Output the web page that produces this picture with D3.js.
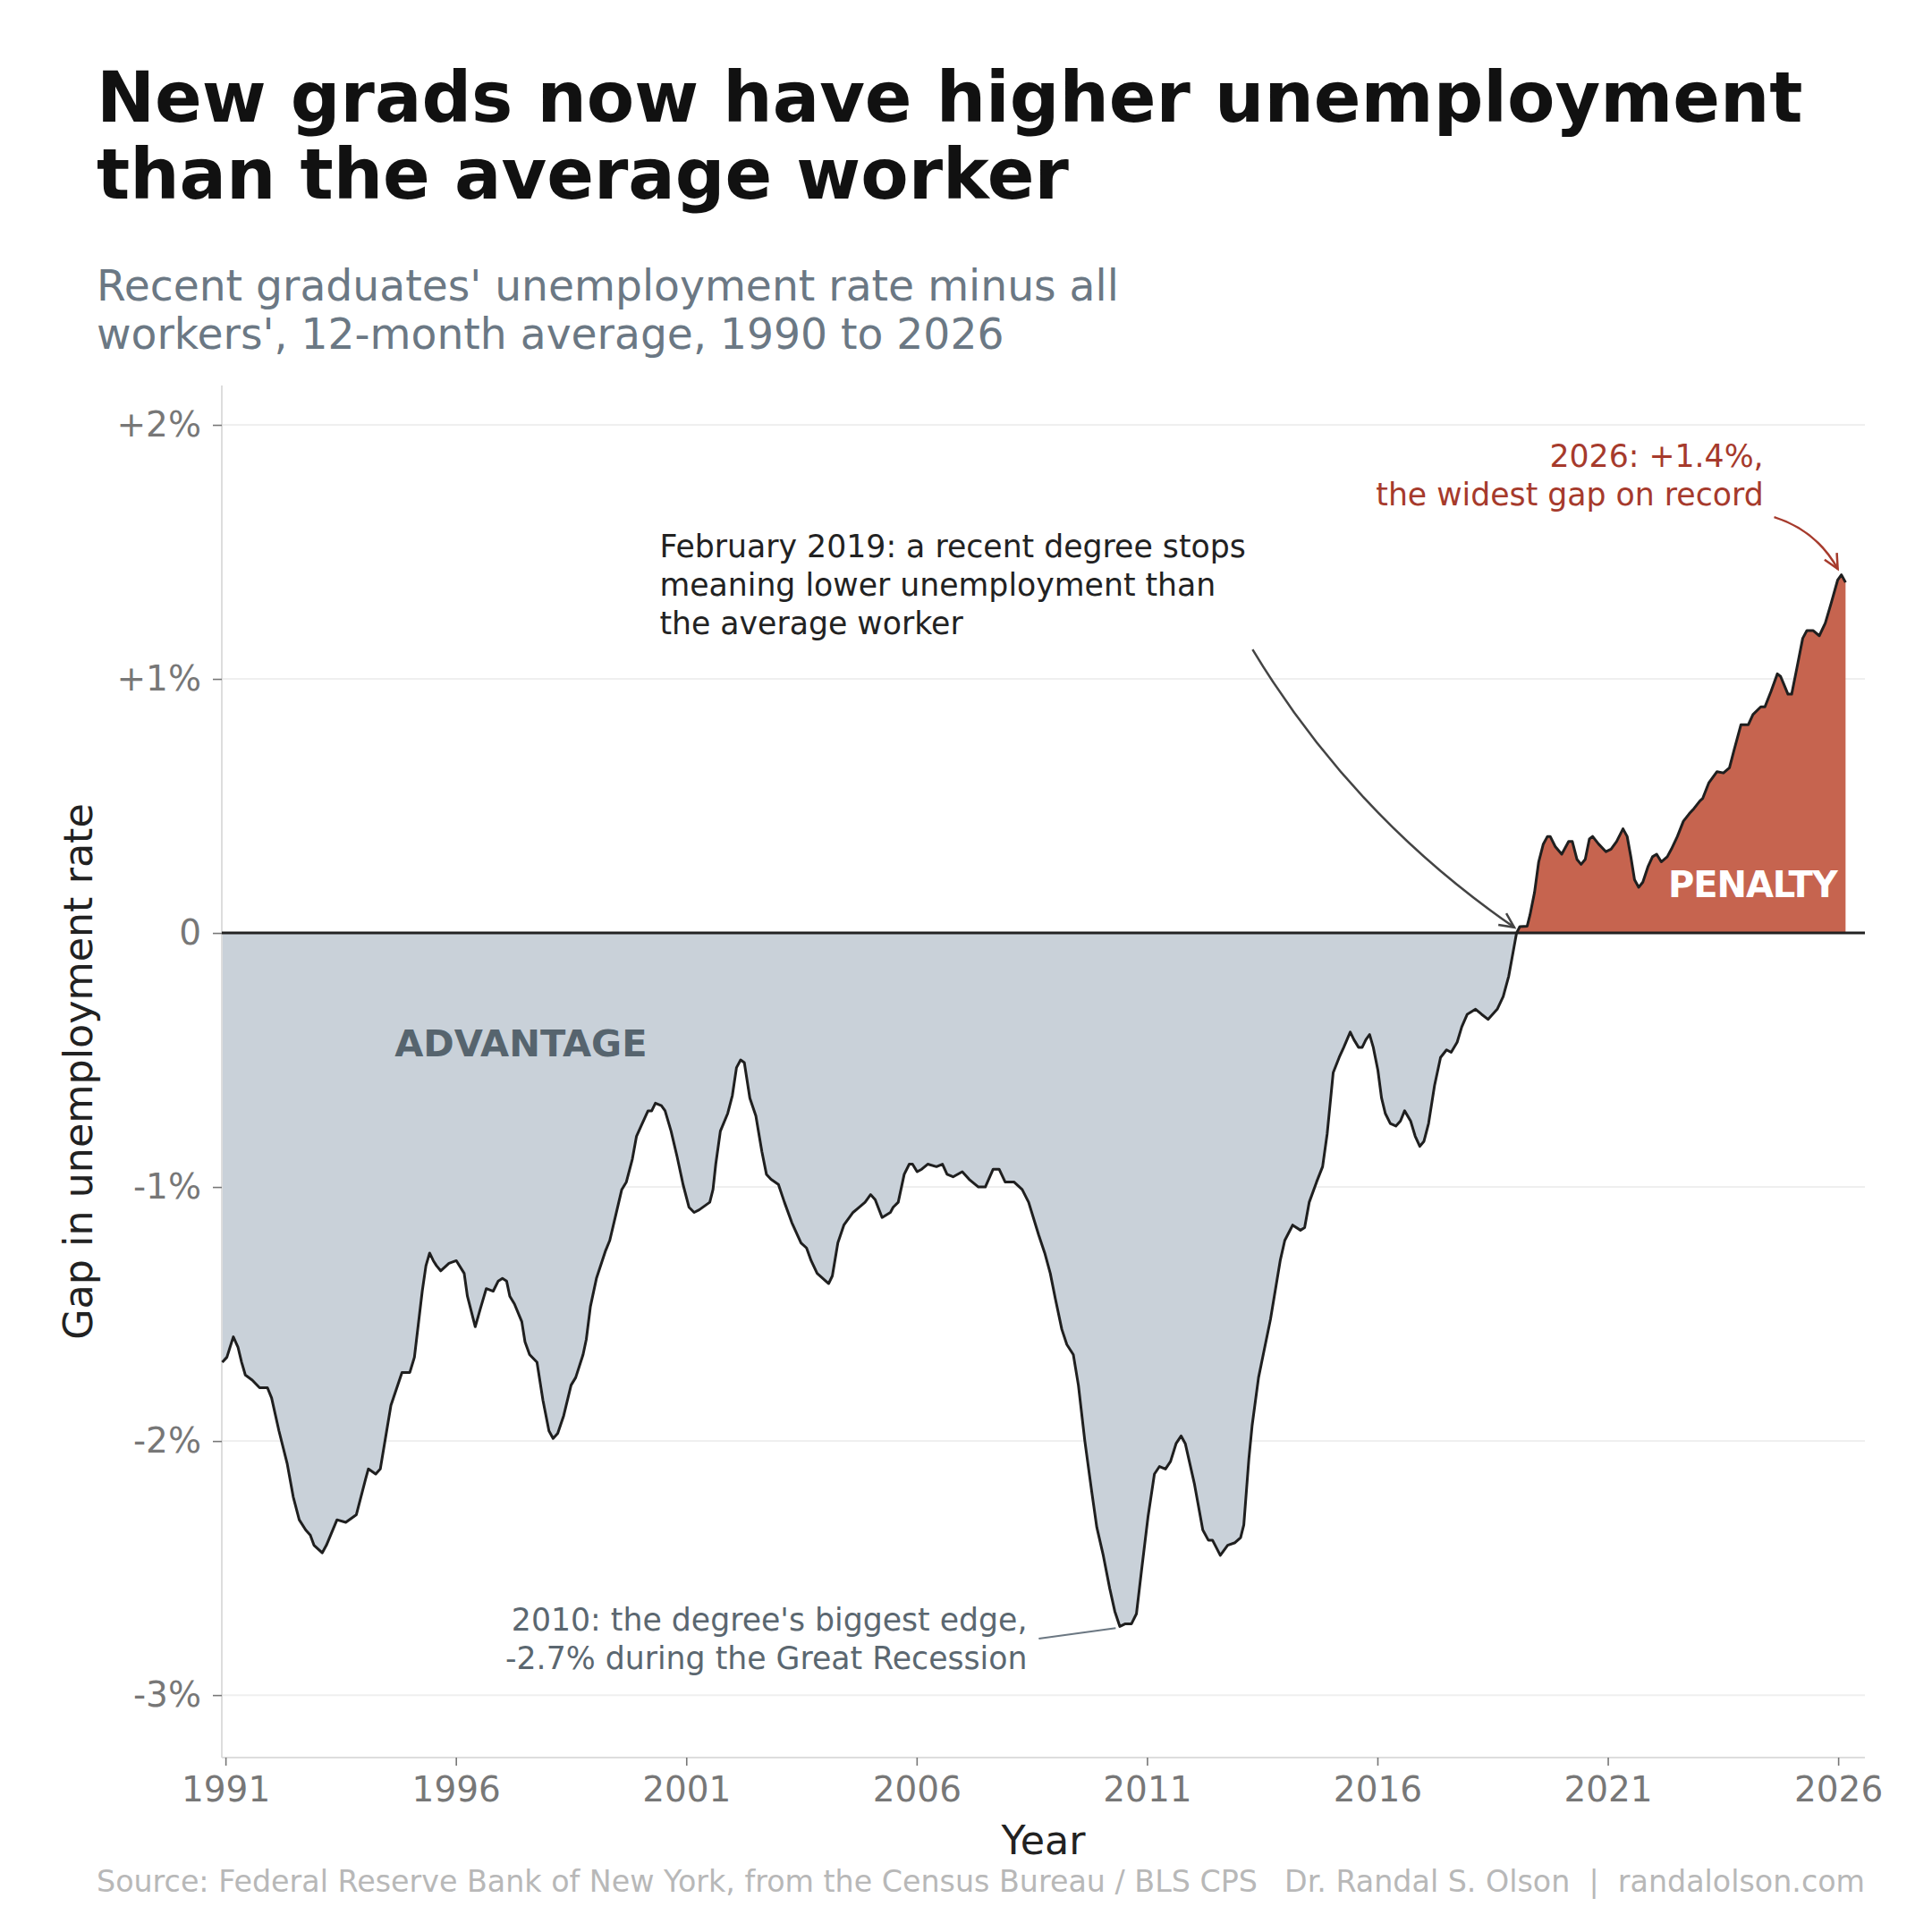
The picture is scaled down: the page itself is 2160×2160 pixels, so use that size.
<!DOCTYPE html>
<html>
<head>
<meta charset="utf-8">
<script src="https://cdn.jsdelivr.net/npm/d3@7"></script>
<style>
  body { margin: 0; background: #fff; }
  svg { display: block; font-family: "DejaVu Sans", sans-serif; }
</style>
</head>
<body>
<div id="chart"></div>
<script>
// gap = recent grads' unemployment rate minus all workers', 12-month avg (pct points)
// dates as decimal years
const years = [
  1990.93, 1991.03, 1991.17, 1991.27, 1991.35, 1991.43, 1991.58, 1991.74, 1991.91, 1992.00,
  1992.16, 1992.34, 1992.47, 1992.60, 1992.74, 1992.84, 1992.92, 1993.10, 1993.19, 1993.42,
  1993.61, 1993.84, 1994.04, 1994.10, 1994.26, 1994.36, 1994.59, 1994.83, 1995.00, 1995.10,
  1995.27, 1995.35, 1995.43, 1995.51, 1995.58, 1995.67, 1995.85, 1996.01, 1996.18, 1996.25,
  1996.42, 1996.53, 1996.66, 1996.81, 1996.92, 1997.01, 1997.10, 1997.17, 1997.27, 1997.43,
  1997.50, 1997.60, 1997.76, 1997.89, 1998.02, 1998.11, 1998.21, 1998.34, 1998.50, 1998.60,
  1998.76, 1998.83, 1998.92, 1999.05, 1999.25, 1999.34, 1999.47, 1999.60, 1999.70, 1999.83,
  1999.92, 2000.02, 2000.17, 2000.25, 2000.33, 2000.46, 2000.54, 2000.67, 2000.80, 2000.93,
  2001.06, 2001.17, 2001.28, 2001.51, 2001.58, 2001.64, 2001.74, 2001.90, 2002.00, 2002.09,
  2002.18, 2002.26, 2002.38, 2002.51, 2002.64, 2002.74, 2002.84, 2003.00, 2003.13, 2003.29,
  2003.49, 2003.61, 2003.71, 2003.84, 2004.09, 2004.17, 2004.29, 2004.42, 2004.62, 2004.75,
  2004.88, 2005.00, 2005.10, 2005.25, 2005.43, 2005.49, 2005.60, 2005.73, 2005.84, 2005.91,
  2006.01, 2006.11, 2006.24, 2006.43, 2006.56, 2006.66, 2006.79, 2006.99, 2007.14, 2007.34,
  2007.49, 2007.66, 2007.79, 2007.92, 2008.11, 2008.29, 2008.43, 2008.65, 2008.78, 2008.90,
  2009.01, 2009.15, 2009.26, 2009.40, 2009.51, 2009.65, 2009.80, 2009.91, 2010.05, 2010.19,
  2010.30, 2010.41, 2010.52, 2010.66, 2010.77, 2010.88, 2011.02, 2011.16, 2011.27, 2011.40,
  2011.51, 2011.63, 2011.74, 2011.83, 2012.03, 2012.21, 2012.33, 2012.42, 2012.59, 2012.75,
  2012.91, 2013.03, 2013.10, 2013.21, 2013.28, 2013.42, 2013.68, 2013.89, 2013.99, 2014.16,
  2014.33, 2014.42, 2014.52, 2014.68, 2014.81, 2014.91, 2015.04, 2015.17, 2015.27, 2015.41,
  2015.49, 2015.59, 2015.67, 2015.75, 2015.83, 2015.91, 2016.01, 2016.09, 2016.17, 2016.28,
  2016.40, 2016.50, 2016.59, 2016.72, 2016.82, 2016.92, 2017.01, 2017.11, 2017.24, 2017.37,
  2017.50, 2017.60, 2017.73, 2017.83, 2017.95, 2018.13, 2018.26, 2018.40, 2018.60, 2018.73,
  2018.85, 2018.94, 2019.02, 2019.09, 2019.25, 2019.31, 2019.41, 2019.50, 2019.60, 2019.69,
  2019.75, 2019.86, 2020.00, 2020.15, 2020.23, 2020.33, 2020.42, 2020.51, 2020.60, 2020.67,
  2020.80, 2020.96, 2021.07, 2021.19, 2021.33, 2021.42, 2021.50, 2021.58, 2021.67, 2021.76,
  2021.87, 2021.97, 2022.06, 2022.16, 2022.29, 2022.38, 2022.51, 2022.64, 2022.77, 2022.87,
  2023.00, 2023.06, 2023.19, 2023.37, 2023.51, 2023.64, 2023.74, 2023.89, 2024.05, 2024.15,
  2024.32, 2024.41, 2024.54, 2024.68, 2024.75, 2024.91, 2024.99, 2025.10, 2025.23, 2025.32,
  2025.46, 2025.59, 2025.72, 2025.85, 2025.99, 2026.07, 2026.16
];
const gap = [
  -1.69, -1.67, -1.59, -1.63, -1.69, -1.74, -1.76, -1.79, -1.79, -1.83,
  -1.96, -2.09, -2.22, -2.31, -2.35, -2.37, -2.41, -2.44, -2.41, -2.31,
  -2.32, -2.29, -2.15, -2.11, -2.13, -2.11, -1.86, -1.73, -1.73, -1.67,
  -1.41, -1.31, -1.26, -1.29, -1.31, -1.33, -1.30, -1.29, -1.34, -1.43,
  -1.55, -1.48, -1.40, -1.41, -1.37, -1.36, -1.37, -1.43, -1.46, -1.53,
  -1.61, -1.66, -1.69, -1.84, -1.96, -1.99, -1.97, -1.90, -1.78, -1.75,
  -1.66, -1.60, -1.47, -1.36, -1.25, -1.21, -1.11, -1.01, -0.98, -0.89,
  -0.80, -0.76, -0.70, -0.70, -0.67, -0.68, -0.70, -0.78, -0.88, -0.99,
  -1.08, -1.10, -1.09, -1.06, -1.01, -0.91, -0.78, -0.71, -0.64, -0.53,
  -0.50, -0.51, -0.65, -0.72, -0.86, -0.95, -0.97, -0.99, -1.06, -1.14,
  -1.22, -1.24, -1.29, -1.34, -1.38, -1.35, -1.22, -1.15, -1.10, -1.08,
  -1.06, -1.03, -1.05, -1.12, -1.10, -1.08, -1.06, -0.95, -0.91, -0.91,
  -0.94, -0.93, -0.91, -0.92, -0.91, -0.95, -0.96, -0.94, -0.97, -1.00,
  -1.00, -0.93, -0.93, -0.98, -0.98, -1.01, -1.06, -1.19, -1.26, -1.34,
  -1.44, -1.56, -1.62, -1.66, -1.78, -2.00, -2.20, -2.34, -2.45, -2.58,
  -2.67, -2.73, -2.72, -2.72, -2.68, -2.51, -2.30, -2.13, -2.10, -2.11,
  -2.08, -2.01, -1.98, -2.01, -2.17, -2.35, -2.39, -2.39, -2.45, -2.41,
  -2.40, -2.38, -2.33, -2.07, -1.94, -1.75, -1.52, -1.29, -1.21, -1.15,
  -1.17, -1.16, -1.06, -0.98, -0.92, -0.79, -0.55, -0.49, -0.45, -0.39,
  -0.42, -0.45, -0.45, -0.42, -0.40, -0.45, -0.54, -0.65, -0.71, -0.75,
  -0.76, -0.74, -0.70, -0.74, -0.80, -0.84, -0.82, -0.75, -0.60, -0.49,
  -0.46, -0.47, -0.43, -0.37, -0.32, -0.30, -0.32, -0.34, -0.30, -0.25,
  -0.17, -0.08, 0.00, 0.025, 0.027, 0.07, 0.16, 0.28, 0.35, 0.38,
  0.38, 0.34, 0.31, 0.36, 0.36, 0.29, 0.27, 0.29, 0.37, 0.38,
  0.35, 0.32, 0.33, 0.36, 0.41, 0.38, 0.30, 0.21, 0.18, 0.20,
  0.26, 0.30, 0.31, 0.28, 0.30, 0.33, 0.38, 0.44, 0.47, 0.49,
  0.52, 0.53, 0.59, 0.635, 0.63, 0.65, 0.72, 0.82, 0.82, 0.86,
  0.89, 0.89, 0.95, 1.02, 1.01, 0.94, 0.94, 1.04, 1.16, 1.19,
  1.19, 1.17, 1.22, 1.30, 1.39, 1.41, 1.38
];

const xTicks = [1991, 1996, 2001, 2006, 2011, 2016, 2021, 2026];
const yTicks = [2, 1, 0, -1, -2, -3];
const yTickLabels = ["+2%", "+1%", "0", "-1%", "-2%", "-3%"];

const titleLines = ["New grads now have higher unemployment", "than the average worker"];
const subtitleLines = ["Recent graduates' unemployment rate minus all", "workers', 12-month average, 1990 to 2026"];
const sourceText = "Source: Federal Reserve Bank of New York, from the Census Bureau / BLS CPS";
const creditText = "Dr. Randal S. Olson  |  randalolson.com";

const W = 2160, H = 2160;
const plot = {left: 248, right: 2085, top: 431, bottom: 1965};

const svg = d3.select("#chart").append("svg")
    .attr("width", W)
    .attr("height", H);

svg.append("rect").attr("width", W).attr("height", H).attr("fill", "#fff");

const x = d3.scaleLinear().domain([1990.92, 2026.58]).range([plot.left, plot.right]);
const y = d3.scaleLinear().domain([-3.246, 2.155]).range([plot.bottom, plot.top]);

const data = years.map((t, i) => ({t: t, v: gap[i]}));

// title + subtitle
svg.append("g").selectAll("text")
    .data(titleLines).enter().append("text")
    .attr("x", 108)
    .attr("y", (d, i) => 136 + i * 86)
    .attr("font-size", 77.8)
    .attr("font-weight", "bold")
    .attr("fill", "#111")
    .text(d => d);

svg.append("g").selectAll("text")
    .data(subtitleLines).enter().append("text")
    .attr("x", 108)
    .attr("y", (d, i) => 336 + i * 54)
    .attr("font-size", 47.2)
    .attr("fill", "#6b7884")
    .text(d => d);

// gridlines
svg.append("g").selectAll("line")
    .data(yTicks.filter(d => d !== 0)).enter().append("line")
    .attr("x1", plot.left).attr("x2", plot.right)
    .attr("y1", d => y(d)).attr("y2", d => y(d))
    .attr("stroke", "#efefef")
    .attr("stroke-width", 2);

// clip above / below zero
let defs = svg.append("defs");
defs.append("clipPath").attr("id", "clipNeg").append("rect")
    .attr("x", plot.left).attr("y", y(0))
    .attr("width", plot.right - plot.left).attr("height", plot.bottom - y(0));
defs.append("clipPath").attr("id", "clipPos").append("rect")
    .attr("x", plot.left).attr("y", plot.top)
    .attr("width", plot.right - plot.left).attr("height", y(0) - plot.top);

let area = d3.area()
    .x(d => x(d.t))
    .y0(y(0))
    .y1(d => y(d.v));

svg.append("path")
    .datum(data)
    .attr("d", area)
    .attr("fill", "#c9d1d9")
    .attr("clip-path", "url(#clipNeg)");

svg.append("path")
    .datum(data)
    .attr("d", area)
    .attr("fill", "#c6644f")
    .attr("clip-path", "url(#clipPos)");

// spines
svg.append("line")
    .attr("x1", plot.left).attr("x2", plot.left)
    .attr("y1", plot.top).attr("y2", plot.bottom)
    .attr("stroke", "#dddddd").attr("stroke-width", 2);
svg.append("line")
    .attr("x1", plot.left).attr("x2", plot.right)
    .attr("y1", plot.bottom).attr("y2", plot.bottom)
    .attr("stroke", "#dddddd").attr("stroke-width", 2);

// zero line
svg.append("line")
    .attr("x1", plot.left).attr("x2", plot.right)
    .attr("y1", y(0)).attr("y2", y(0))
    .attr("stroke", "#222").attr("stroke-width", 3);

// the series
svg.append("path")
    .datum(data)
    .attr("d", d3.line().x(d => x(d.t)).y(d => y(d.v)))
    .attr("fill", "none")
    .attr("stroke", "#1f1f1f")
    .attr("stroke-width", 3)
    .attr("stroke-linejoin", "round");

// axes
let yAxis = svg.append("g")
    .attr("transform", "translate(" + plot.left + ",0)")
    .call(d3.axisLeft(y).tickValues(yTicks).tickFormat((d, i) => yTickLabels[i]).tickSize(10).tickPadding(13));
let xAxis = svg.append("g")
    .attr("transform", "translate(0," + plot.bottom + ")")
    .call(d3.axisBottom(x).tickValues(xTicks).tickFormat(d3.format("d")).tickSize(9).tickPadding(12));

[yAxis, xAxis].forEach(function (g) {
    g.select(".domain").remove();
    g.selectAll(".tick line").attr("stroke", "#777").attr("stroke-width", 1.6);
    g.selectAll(".tick text")
        .attr("fill", "#777")
        .attr("font-size", 39)
        .attr("font-family", "DejaVu Sans");
});

svg.append("text")
    .attr("x", (plot.left + plot.right) / 2)
    .attr("y", 2073)
    .attr("text-anchor", "middle")
    .attr("font-size", 44.4)
    .attr("fill", "#222")
    .text("Year");

svg.append("text")
    .attr("transform", "translate(103," + (plot.top + plot.bottom) / 2 + ") rotate(-90)")
    .attr("text-anchor", "middle")
    .attr("font-size", 44.4)
    .attr("fill", "#222")
    .text("Gap in unemployment rate");

// region labels
svg.append("text")
    .attr("x", x(1994.67)).attr("y", y(-0.486))
    .attr("font-size", 41.5).attr("font-weight", "bold")
    .attr("fill", "#56646e")
    .text("ADVANTAGE");

svg.append("text")
    .attr("x", x(2025.97)).attr("y", y(0.14))
    .attr("text-anchor", "end")
    .attr("font-size", 40)
    .attr("letter-spacing", -1.1)
    .attr("font-weight", "bold")
    .attr("fill", "#fff")
    .text("PENALTY");

// annotations
function multiText(lines, px, py, anchor, color) {
    svg.append("g").selectAll("text")
        .data(lines).enter().append("text")
        .attr("x", px)
        .attr("y", (d, i) => py + i * 43)
        .attr("text-anchor", anchor)
        .attr("font-size", 34.7)
        .attr("fill", color)
        .text(d => d);
}

function curvedArrow(p1, p2, rad, color) {
    let dx = p2[0] - p1[0], dy = p2[1] - p1[1];
    let cx = (p1[0] + p2[0]) / 2 - rad * dy;
    let cy = (p1[1] + p2[1]) / 2 + rad * dx;
    let path = d3.path();
    path.moveTo(p1[0], p1[1]);
    path.quadraticCurveTo(cx, cy, p2[0], p2[1]);
    svg.append("path").attr("d", path.toString())
        .attr("fill", "none").attr("stroke", color).attr("stroke-width", 2.5);

    // open arrow head
    let ang = Math.atan2(p2[1] - cy, p2[0] - cx);
    let len = 18, spread = 0.45;
    let head = d3.path();
    head.moveTo(p2[0] - len * Math.cos(ang - spread), p2[1] - len * Math.sin(ang - spread));
    head.lineTo(p2[0], p2[1]);
    head.lineTo(p2[0] - len * Math.cos(ang + spread), p2[1] - len * Math.sin(ang + spread));
    svg.append("path").attr("d", head.toString())
        .attr("fill", "none").attr("stroke", color).attr("stroke-width", 2.5)
        .attr("stroke-linejoin", "miter");
}

multiText(["February 2019: a recent degree stops", "meaning lower unemployment than", "the average worker"],
    x(2000.42), y(1.48), "start", "#222");
curvedArrow([x(2013.29), y(1.116)], [x(2018.97), y(0.022)], 0.108, "#444");

multiText(["2026: +1.4%,", "the widest gap on record"],
    x(2024.38), y(1.835), "end", "#a63a2c");
curvedArrow([x(2024.61), y(1.637)], [x(2025.99), y(1.433)], -0.2, "#a63a2c");

multiText(["2010: the degree's biggest edge,", "-2.7% during the Great Recession"],
    x(2008.4), y(-2.745), "end", "#5b6770");
svg.append("line")
    .attr("x1", x(2008.65)).attr("y1", y(-2.778))
    .attr("x2", x(2010.32)).attr("y2", y(-2.736))
    .attr("stroke", "#6b7782").attr("stroke-width", 2);

// footer
svg.append("text")
    .attr("x", 108).attr("y", 2115)
    .attr("font-size", 33.3).attr("fill", "#b8b8b8")
    .text(sourceText);
svg.append("text")
    .attr("x", plot.right).attr("y", 2115)
    .attr("text-anchor", "end")
    .attr("font-size", 33.3).attr("fill", "#b8b8b8")
    .style("white-space", "pre")
    .text(creditText);
</script>
</body>
</html>
